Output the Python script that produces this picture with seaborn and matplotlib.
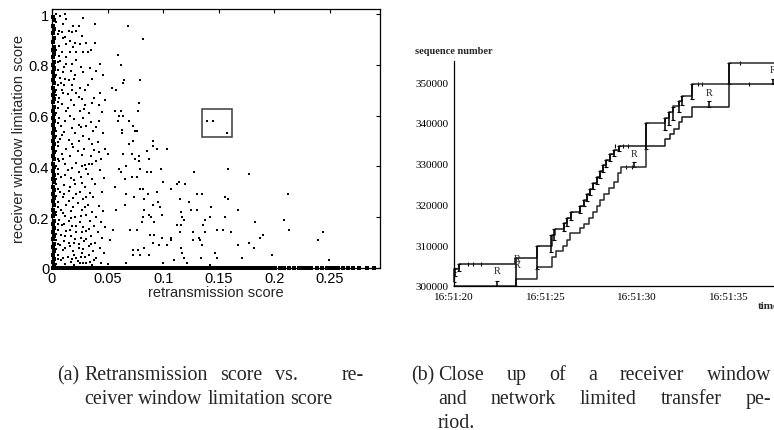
import matplotlib
matplotlib.use("Agg")
import matplotlib.pyplot as plt
from matplotlib.patches import Rectangle
import seaborn as sns
import pandas as pd

W, H = 774, 431

# ---------------- panel (a) data ----------------
a_xticks = [0, 0.05, 0.1, 0.15, 0.2, 0.25]
a_xticklabels = ["0", "0.05", "0.1", "0.15", "0.2", "0.25"]
a_yticks = [0, 0.2, 0.4, 0.6, 0.8, 1.0]
a_yticklabels = ["0", "0.2", "0.4", "0.6", "0.8", "1"]

# flows in the dense region (retransmission score < 0.05)
dense_pts = [
    (0.004, 1.0), (0.007, 0.993), (0.012, 1.0), (0.013, 0.98), (0.024, 0.954), (0.028, 0.983),
    (0.039, 0.961), (0.006, 0.934), (0.009, 0.928), (0.015, 0.934), (0.018, 0.928), (0.022, 0.932),
    (0.012, 0.908), (0.016, 0.895), (0.021, 0.888), (0.013, 0.882), (0.025, 0.882), (0.031, 0.885),
    (0.039, 0.885), (0.006, 0.875), (0.003, 0.849), (0.009, 0.849), (0.016, 0.849), (0.022, 0.852),
    (0.028, 0.852), (0.032, 0.852), (0.006, 0.836), (0.013, 0.829), (0.022, 0.82), (0.007, 0.816),
    (0.013, 0.803), (0.018, 0.803), (0.026, 0.79), (0.034, 0.786), (0.043, 0.803), (0.003, 0.79),
    (0.005, 0.78), (0.010, 0.77), (0.017, 0.775), (0.028, 0.77), (0.040, 0.775), (0.046, 0.76),
    (0.007, 0.75), (0.012, 0.745), (0.015, 0.74), (0.020, 0.745), (0.008, 0.73), (0.011, 0.72),
    (0.018, 0.72), (0.025, 0.71), (0.032, 0.72), (0.004, 0.70), (0.010, 0.69), (0.014, 0.685),
    (0.022, 0.69), (0.030, 0.70), (0.043, 0.69), (0.006, 0.67), (0.017, 0.66), (0.027, 0.665),
    (0.038, 0.67), (0.048, 0.66), (0.009, 0.645), (0.020, 0.64), (0.030, 0.64), (0.036, 0.65),
    (0.042, 0.64), (0.005, 0.63), (0.013, 0.62), (0.025, 0.62), (0.033, 0.61), (0.045, 0.615),
    (0.006, 0.59), (0.012, 0.58), (0.020, 0.585), (0.028, 0.59), (0.035, 0.575), (0.042, 0.58),
    (0.008, 0.56), (0.018, 0.55), (0.026, 0.555), (0.031, 0.56), (0.004, 0.54), (0.011, 0.535),
    (0.021, 0.53), (0.037, 0.54), (0.046, 0.53), (0.007, 0.51), (0.015, 0.505), (0.024, 0.50),
    (0.033, 0.51), (0.041, 0.495), (0.005, 0.48), (0.013, 0.47), (0.019, 0.475), (0.029, 0.47),
    (0.038, 0.465), (0.048, 0.47), (0.009, 0.45), (0.016, 0.44), (0.027, 0.445), (0.035, 0.44),
    (0.044, 0.43), (0.006, 0.42), (0.012, 0.41), (0.022, 0.415), (0.030, 0.405), (0.033, 0.41),
    (0.036, 0.41), (0.040, 0.42), (0.005, 0.39), (0.014, 0.385), (0.024, 0.38), (0.031, 0.39),
    (0.043, 0.385), (0.008, 0.36), (0.017, 0.355), (0.026, 0.36), (0.036, 0.35), (0.047, 0.355),
    (0.004, 0.33), (0.011, 0.325), (0.021, 0.33), (0.030, 0.32), (0.039, 0.33), (0.007, 0.30),
    (0.015, 0.305), (0.025, 0.30), (0.034, 0.295), (0.045, 0.30), (0.010, 0.28), (0.019, 0.275),
    (0.028, 0.27), (0.037, 0.28), (0.005, 0.26), (0.013, 0.25), (0.023, 0.255), (0.032, 0.25),
    (0.042, 0.245), (0.008, 0.23), (0.017, 0.225), (0.027, 0.23), (0.036, 0.22), (0.046, 0.225),
    (0.004, 0.21), (0.012, 0.205), (0.021, 0.20), (0.031, 0.21), (0.040, 0.20), (0.006, 0.19),
    (0.015, 0.185), (0.025, 0.18), (0.034, 0.185), (0.044, 0.18), (0.009, 0.17), (0.018, 0.165),
    (0.028, 0.16), (0.038, 0.165), (0.048, 0.16), (0.005, 0.15), (0.013, 0.145), (0.022, 0.14),
    (0.031, 0.145), (0.041, 0.14), (0.008, 0.13), (0.017, 0.125), (0.026, 0.12), (0.035, 0.125),
    (0.045, 0.12), (0.004, 0.11), (0.011, 0.105), (0.020, 0.10), (0.029, 0.105), (0.039, 0.10),
    (0.007, 0.09), (0.016, 0.085), (0.024, 0.08), (0.033, 0.085), (0.043, 0.08), (0.010, 0.07),
    (0.019, 0.065), (0.027, 0.06), (0.037, 0.065), (0.047, 0.06), (0.005, 0.05), (0.014, 0.045),
    (0.022, 0.04), (0.030, 0.045), (0.040, 0.04), (0.008, 0.03), (0.017, 0.025), (0.025, 0.02),
    (0.028, 0.02), (0.031, 0.02), (0.034, 0.025), (0.044, 0.02), (0.012, 0.015), (0.020, 0.012),
    (0.036, 0.012), (0.050, 0.015),
    (0.004, 0.97), (0.005, 0.92), (0.004, 0.86), (0.005, 0.81), (0.004, 0.76), (0.005, 0.72),
    (0.004, 0.68), (0.005, 0.655), (0.004, 0.61), (0.005, 0.57), (0.004, 0.52), (0.005, 0.495),
    (0.004, 0.46), (0.005, 0.43), (0.004, 0.40), (0.005, 0.37), (0.004, 0.35), (0.005, 0.31),
    (0.004, 0.285), (0.005, 0.24), (0.004, 0.22), (0.005, 0.175), (0.004, 0.135), (0.005, 0.095),
    (0.004, 0.075), (0.005, 0.035), (0.004, 0.015),
    (0.010, 0.96), (0.019, 0.955), (0.010, 0.905), (0.027, 0.915), (0.019, 0.87), (0.035, 0.86),
    (0.011, 0.79), (0.021, 0.76), (0.036, 0.745), (0.009, 0.70), (0.018, 0.70), (0.024, 0.675),
    (0.014, 0.63), (0.029, 0.625), (0.016, 0.60), (0.024, 0.565), (0.040, 0.555), (0.009, 0.525),
    (0.028, 0.52), (0.018, 0.49), (0.036, 0.49), (0.023, 0.46), (0.042, 0.455), (0.010, 0.43),
    (0.018, 0.395), (0.027, 0.40), (0.012, 0.365), (0.032, 0.37), (0.020, 0.345), (0.016, 0.32),
    (0.027, 0.335), (0.011, 0.29), (0.022, 0.29), (0.031, 0.28), (0.015, 0.265), (0.019, 0.24),
    (0.030, 0.24), (0.010, 0.215), (0.026, 0.205), (0.017, 0.195), (0.011, 0.175), (0.022, 0.165),
    (0.033, 0.155), (0.016, 0.15), (0.027, 0.14), (0.012, 0.125), (0.021, 0.115), (0.031, 0.115),
    (0.015, 0.10), (0.024, 0.095), (0.035, 0.095), (0.012, 0.08), (0.028, 0.075), (0.020, 0.05),
    (0.026, 0.045), (0.033, 0.05), (0.010, 0.04), (0.018, 0.035), (0.038, 0.03), (0.023, 0.028),
]

# flows in the sparse region (retransmission score >= 0.05)
sparse_pts = [
    (0.068, 0.954), (0.082, 0.90), (0.059, 0.84), (0.062, 0.80), (0.065, 0.74), (0.064, 0.73),
    (0.079, 0.74), (0.054, 0.71), (0.058, 0.70), (0.078, 0.65), (0.062, 0.62), (0.077, 0.62),
    (0.057, 0.62), (0.064, 0.60), (0.060, 0.60), (0.059, 0.58), (0.069, 0.58), (0.073, 0.56),
    (0.063, 0.545), (0.075, 0.54), (0.063, 0.53), (0.076, 0.54), (0.073, 0.50), (0.091, 0.50),
    (0.069, 0.49), (0.091, 0.48), (0.094, 0.47), (0.103, 0.47), (0.085, 0.46), (0.064, 0.45),
    (0.072, 0.45), (0.078, 0.44), (0.075, 0.43), (0.087, 0.43), (0.078, 0.42), (0.067, 0.40),
    (0.062, 0.38), (0.079, 0.39), (0.085, 0.38), (0.089, 0.38), (0.098, 0.39), (0.128, 0.38),
    (0.158, 0.39), (0.177, 0.37), (0.072, 0.36), (0.076, 0.36), (0.066, 0.35), (0.100, 0.34),
    (0.114, 0.34), (0.112, 0.33), (0.120, 0.33), (0.079, 0.31), (0.082, 0.31), (0.094, 0.30),
    (0.107, 0.31), (0.067, 0.29), (0.086, 0.29), (0.130, 0.29), (0.135, 0.29), (0.156, 0.28),
    (0.158, 0.27), (0.074, 0.28), (0.083, 0.27), (0.095, 0.26), (0.115, 0.27), (0.123, 0.26),
    (0.066, 0.25), (0.091, 0.25), (0.097, 0.24), (0.083, 0.23), (0.125, 0.23), (0.130, 0.23),
    (0.143, 0.24), (0.167, 0.23), (0.087, 0.21), (0.099, 0.21), (0.116, 0.22), (0.082, 0.20),
    (0.089, 0.20), (0.117, 0.20), (0.142, 0.20), (0.156, 0.20), (0.119, 0.19), (0.138, 0.19),
    (0.081, 0.18), (0.092, 0.18), (0.112, 0.17), (0.116, 0.17), (0.136, 0.17), (0.148, 0.15),
    (0.154, 0.15), (0.161, 0.14), (0.115, 0.14), (0.127, 0.14), (0.138, 0.14), (0.070, 0.15),
    (0.076, 0.15), (0.088, 0.13), (0.092, 0.13), (0.099, 0.12), (0.107, 0.12), (0.132, 0.12),
    (0.127, 0.11), (0.133, 0.11), (0.107, 0.11), (0.091, 0.10), (0.103, 0.09), (0.096, 0.09),
    (0.116, 0.08), (0.135, 0.09), (0.167, 0.09), (0.083, 0.08), (0.073, 0.07), (0.077, 0.07),
    (0.117, 0.06), (0.147, 0.06), (0.073, 0.05), (0.079, 0.05), (0.087, 0.05), (0.119, 0.04),
    (0.134, 0.04), (0.148, 0.04), (0.171, 0.04), (0.067, 0.02), (0.100, 0.02), (0.110, 0.03),
    (0.121, 0.02), (0.142, 0.01), (0.050, 0.45), (0.055, 0.15), (0.052, 0.11), (0.058, 0.23),
    (0.057, 0.32), (0.060, 0.39), (0.212, 0.29), (0.183, 0.18), (0.209, 0.19), (0.213, 0.15),
    (0.190, 0.13), (0.187, 0.12), (0.244, 0.14), (0.239, 0.11), (0.177, 0.10), (0.182, 0.08),
    (0.198, 0.05), (0.249, 0.03), (0.139, 0.579), (0.145, 0.579), (0.157, 0.531),
]

# flows with a retransmission score of (almost) zero
column_pts = [
    (0.0006, 0.99), (0.0018, 0.975), (0.0006, 0.955), (0.0018, 0.94), (0.0006, 0.925), (0.0018, 0.905),
    (0.0006, 0.89), (0.0018, 0.872), (0.0006, 0.86), (0.0018, 0.842), (0.0006, 0.83), (0.0018, 0.812),
    (0.0006, 0.80), (0.0018, 0.785), (0.0006, 0.772), (0.0018, 0.755), (0.0006, 0.741), (0.0018, 0.727),
    (0.0006, 0.71), (0.0018, 0.697), (0.0006, 0.683), (0.0018, 0.665), (0.0006, 0.652), (0.0018, 0.636),
    (0.0006, 0.62), (0.0018, 0.607), (0.0006, 0.592), (0.0018, 0.577), (0.0006, 0.563), (0.0018, 0.546),
    (0.0006, 0.532), (0.0018, 0.517), (0.0006, 0.50), (0.0018, 0.487), (0.0006, 0.473), (0.0018, 0.455),
    (0.0006, 0.442), (0.0018, 0.428), (0.0006, 0.41), (0.0018, 0.397), (0.0006, 0.383), (0.0018, 0.366),
    (0.0006, 0.352), (0.0018, 0.338), (0.0006, 0.32), (0.0018, 0.307), (0.0006, 0.293), (0.0018, 0.276),
    (0.0006, 0.262), (0.0018, 0.248), (0.0006, 0.23), (0.0018, 0.217), (0.0006, 0.203), (0.0018, 0.186),
    (0.0006, 0.172), (0.0018, 0.158), (0.0006, 0.14), (0.0018, 0.127), (0.0006, 0.113), (0.0018, 0.096),
    (0.0006, 0.082), (0.0018, 0.068), (0.0006, 0.05), (0.0018, 0.037), (0.0006, 0.023), (0.0018, 0.01),
]

# flows with a receiver-window limitation score of zero
zero_x = [
    0.001, 0.003, 0.005, 0.008, 0.010, 0.012, 0.015, 0.017, 0.019, 0.022, 0.024, 0.027, 0.029, 0.031,
    0.034, 0.036, 0.038, 0.041, 0.043, 0.046, 0.048, 0.050, 0.053, 0.055, 0.058, 0.060, 0.062, 0.065,
    0.067, 0.070, 0.072, 0.074, 0.077, 0.079, 0.082, 0.084, 0.086, 0.089, 0.091, 0.094, 0.096, 0.098,
    0.101, 0.103, 0.106, 0.108, 0.110, 0.113, 0.115, 0.118, 0.120, 0.122, 0.125, 0.127, 0.130, 0.132,
    0.134, 0.137, 0.139, 0.142, 0.144, 0.146, 0.149, 0.151, 0.154, 0.156, 0.158, 0.161, 0.163, 0.166,
    0.168, 0.170, 0.173, 0.175, 0.178, 0.180, 0.183, 0.186, 0.189, 0.192, 0.195, 0.198, 0.201, 0.205,
    0.209, 0.213, 0.218, 0.222, 0.226, 0.229, 0.233, 0.238, 0.243, 0.247, 0.249, 0.251, 0.254, 0.257,
    0.262, 0.266, 0.271, 0.276, 0.283, 0.290,
]

# highlighted region (close-up of panel b)
box_x = [0.135, 0.162]
box_y = [0.516, 0.626]

# ---------------- panel (b) data ----------------
# time in seconds after 16:51:00
b_xticks = [20, 25, 30, 35]
b_xticklabels = ["16:51:20", "16:51:25", "16:51:30", "16:51:35"]
b_yticks = [300000, 310000, 320000, 330000, 340000, 350000]
b_yminor = [305000, 315000, 325000, 335000, 345000, 355000]

win_t = [20.00, 20.02, 20.29, 23.33, 24.52, 25.34, 25.50, 26.01, 26.16, 26.37, 26.89, 27.07, 27.25,
         27.42, 27.60, 27.78, 27.95, 28.13, 28.32, 28.50, 28.75, 28.98, 31.53, 31.80, 31.98, 32.26,
         32.44, 32.99, 34.99, 37.50]
win_s = [301000, 304170, 305390, 306780, 309880, 312580, 313970, 315400, 316800, 318060, 319690,
         321100, 322500, 323900, 325300, 326800, 328200, 329600, 331000, 332300, 333300, 334390,
         336030, 337260, 338480, 340120, 341350, 343950, 349510, 349510]

ack_t = [20.00, 23.37, 24.52, 25.34, 25.56, 25.97, 26.16, 26.34, 26.89, 27.12, 27.38, 27.58, 27.80,
         27.98, 28.20, 28.43, 28.71, 28.93, 29.11, 30.49, 31.53, 31.71, 31.95, 32.26, 32.44, 32.99,
         34.99, 37.50]
ack_s = [300000, 301600, 304580, 307190, 308660, 309890, 311360, 312990, 314140, 315200, 316590,
         318220, 319690, 321160, 322550, 323940, 325410, 327700, 329090, 339880, 341100, 342570,
         344040, 345420, 346650, 349510, 354830, 354830]

# data segments: time, first and last sequence number
seg_t = [20.02, 20.05, 20.30, 22.33, 23.37, 24.52, 25.30, 25.45, 26.01, 26.16, 26.37, 26.89, 27.07,
         27.25, 27.42, 27.60, 27.78, 27.95, 28.13, 28.32, 28.50, 28.75, 28.98, 29.80, 30.49, 31.53,
         31.71, 31.95, 32.26, 32.44, 32.99, 33.93, 34.99, 37.40]
seg_lo = [300900, 302500, 303700, 300000, 300000, 304200, 308300, 311200, 313500, 314600, 316300,
          318000, 319600, 320900, 322300, 323700, 325100, 326500, 327900, 329300, 330700, 332000,
          333100, 329100, 333500, 338300, 339500, 340800, 342800, 344500, 346000, 344000, 349500,
          349500]
seg_hi = [303500, 304300, 305400, 301300, 306800, 309900, 312600, 314000, 315400, 316800, 318100,
          319700, 321100, 322500, 323900, 325300, 326800, 328200, 329600, 331000, 332300, 333300,
          334400, 330400, 339900, 341100, 342600, 344000, 345400, 346700, 349500, 345400, 354800,
          350800]

# small tick marks along the window/ack lines
tick_t = [20.77, 21.05, 21.45, 28.80, 29.20, 29.50, 29.40, 29.70, 33.30, 33.55, 35.60, 36.10]
tick_s = [305390, 305390, 305390, 334390, 334390, 334390, 329090, 329090, 349510, 349510, 354830, 349510]

# retransmission labels
r_t = [22.33, 23.45, 23.45, 29.85, 33.95, 37.42]
r_s = [303760, 306700, 305200, 332520, 347470, 353190]

# ---------------- drawing ----------------
sns.set_style("white")
plt.rcParams['font.family'] = ['Liberation Sans', 'DejaVu Sans']
SERIF = ['Liberation Serif', 'DejaVu Serif']

fig = plt.figure(figsize=(W / 100, H / 100), dpi=100)
ax1 = fig.add_axes([52 / W, 1 - 269 / H, (380 - 52) / W, (269 - 10) / H])
ax2 = fig.add_axes([454 / W, 1 - 287 / H, (774 - 454) / W, (287 - 62) / H])

# panel (a)
df_dense = pd.DataFrame(dense_pts + sparse_pts, columns=['x', 'y'])
sns.scatterplot(data=df_dense, x='x', y='y', ax=ax1, color='black', marker='s', s=2.2,
                linewidth=0, legend=False)
df_col = pd.DataFrame(column_pts, columns=['x', 'y'])
sns.scatterplot(data=df_col, x='x', y='y', ax=ax1, color='black', marker='s', s=5,
                linewidth=0, legend=False, clip_on=False)
df_zero = pd.DataFrame({'x': zero_x, 'y': [0.0] * len(zero_x)})
sns.scatterplot(data=df_zero, x='x', y='y', ax=ax1, color='black', marker='s', s=6,
                linewidth=0, legend=False, clip_on=False)
ax1.add_patch(Rectangle((box_x[0], box_y[0]), box_x[1] - box_x[0], box_y[1] - box_y[0],
                        fill=False, ec='#3a3a3a', lw=1.1))
ax1.set_xlim(0, 0.295)
ax1.set_ylim(0, 1.02)
ax1.set_xticks(a_xticks)
ax1.set_xticklabels(a_xticklabels)
ax1.set_yticks(a_yticks)
ax1.set_yticklabels(a_yticklabels)
ax1.tick_params(direction='in', top=True, right=True, length=3, width=0.8,
                labelsize=10.5, pad=2, colors='black')
for sp in ax1.spines.values():
    sp.set_visible(True)
    sp.set_color('black')
    sp.set_linewidth(0.9)
ax1.set_xlabel('retransmission score', fontsize=10.5, labelpad=0)
ax1.set_ylabel('receiver window limitation score', fontsize=10.5, labelpad=2)

# panel (b)
sns.lineplot(x=ack_t, y=ack_s, ax=ax2, drawstyle='steps-post', estimator=None, sort=False,
             color='#2a2a2a', lw=1.1, clip_on=False)
sns.lineplot(x=win_t, y=win_s, ax=ax2, drawstyle='steps-post', estimator=None, sort=False,
             color='#1a1a1a', lw=1.1, clip_on=False)
ax2.vlines(seg_t, seg_lo, seg_hi, color='black', lw=1.1)
sns.scatterplot(x=seg_t + seg_t, y=seg_lo + seg_hi, ax=ax2, color='black', marker='_', s=6,
                linewidth=0.8, legend=False)
sns.scatterplot(x=tick_t, y=tick_s, ax=ax2, color='black', marker='|', s=6,
                linewidth=0.8, legend=False)
for t, s in zip(r_t, r_s):
    ax2.text(t, s, 'R', family=SERIF, fontsize=7.5, ha='center', va='center')

ax2.set_xlim(20, 37.46)
ax2.set_ylim(300000, 355200)
ax2.set_xticks(b_xticks)
ax2.set_xticklabels(b_xticklabels)
ax2.set_yticks(b_yticks)
ax2.set_yticklabels([str(v) for v in b_yticks])
ax2.set_yticks(b_yminor, minor=True)
ax2.tick_params(which='both', direction='inout', length=3, width=0.6, labelsize=8, pad=2.5,
                colors='black')
for lab in ax2.get_xticklabels() + ax2.get_yticklabels():
    lab.set_family(SERIF)
for side in ['top', 'right']:
    ax2.spines[side].set_visible(False)
for side in ['left', 'bottom']:
    ax2.spines[side].set_color('black')
    ax2.spines[side].set_linewidth(0.9)
ax2.set_xlabel('')
ax2.set_ylabel('')

fig.text(415 / W, 1 - 52 / H, 'sequence number', family=SERIF, fontweight='bold',
         fontsize=7.5, ha='left', va='center')
fig.text(758 / W, 1 - 307 / H, 'time', family=SERIF, fontweight='bold',
         fontsize=8, ha='left', va='center')

# captions (justified like the LaTeX source)
CAP_FS = 14.4
renderer = fig.canvas.get_renderer()
SPACE = CAP_FS * 100 / 72 * 0.25


def put_line(words, x0, x1, yb, justify, stretch=None):
    texts = [fig.text(0, 1 - yb / H, w, family=SERIF, fontsize=CAP_FS, ha='left',
                      va='baseline') for w in words]
    widths = [t.get_window_extent(renderer=renderer).width for t in texts]
    n = len(words) - 1
    if stretch is None:
        stretch = [1.0] * n
    if justify and n > 0:
        extra = (x1 - x0 - sum(widths) - SPACE * n) / sum(stretch)
        gaps = [SPACE + extra * k for k in stretch]
    else:
        gaps = [SPACE] * n
    x = x0
    for i, (t, w) in enumerate(zip(texts, widths)):
        t.set_x(x / W)
        if i < n:
            x += w + gaps[i]


Y1, Y2, Y3 = 380, 404, 428
fig.text(57 / W, 1 - Y1 / H, '(a)', family=SERIF, fontsize=CAP_FS, va='baseline')
put_line(['Retransmission', 'score', 'vs.', 're-'], 84, 364, Y1, True, stretch=[1, 1, 5])
put_line(['ceiver', 'window', 'limitation', 'score'], 84, 364, Y2, False)
fig.text(411 / W, 1 - Y1 / H, '(b)', family=SERIF, fontsize=CAP_FS, va='baseline')
put_line(['Close', 'up', 'of', 'a', 'receiver', 'window'], 438, 771, Y1, True)
put_line(['and', 'network', 'limited', 'transfer', 'pe-'], 438, 771, Y2, True)
put_line(['riod.'], 438, 771, Y3, False)

fig.savefig('out.png', dpi=100)
